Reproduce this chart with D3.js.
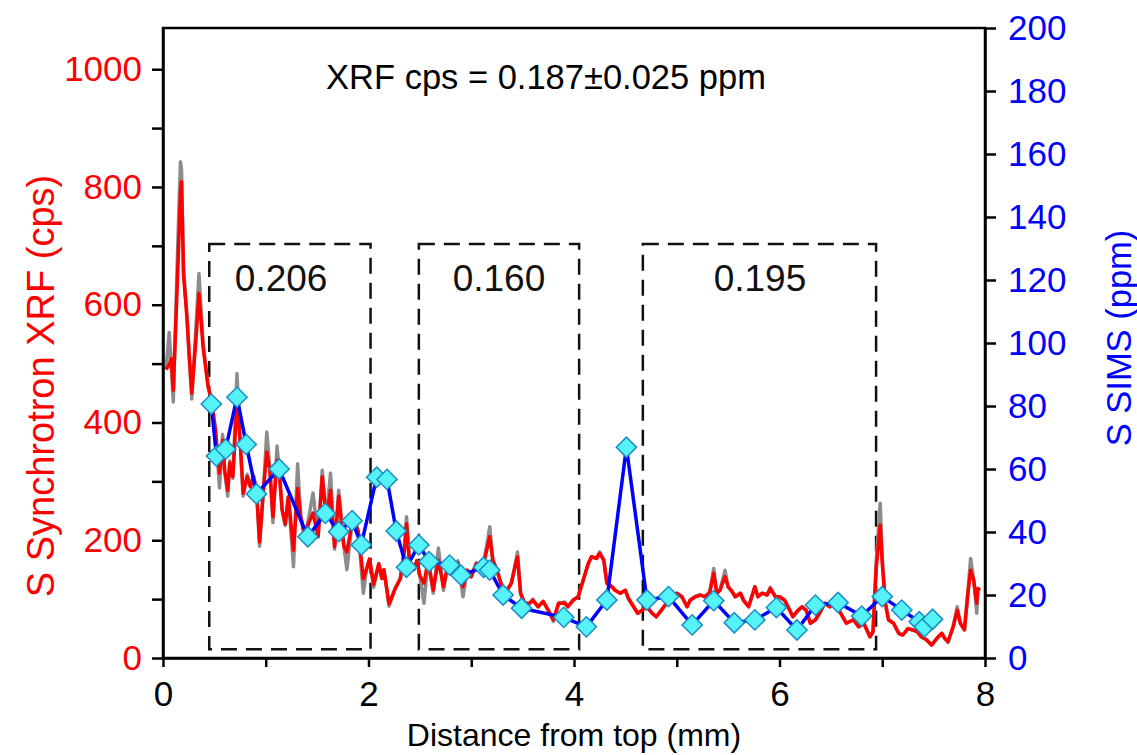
<!DOCTYPE html>
<html>
<head>
<meta charset="utf-8">
<script src="https://cdn.jsdelivr.net/npm/d3@7"></script>
<style>
  body { margin: 0; background: #fff; }
  svg { display: block; font-family: "Liberation Sans", Arial, sans-serif; }
</style>
</head>
<body>
<svg id="chart"></svg>
<script>
// S profile along the sample: synchrotron XRF scan (cps) and SIMS spots (ppm)
// xrf rows: [distance mm, smoothed cps (red), raw cps (grey)]
const xrfScan = [
  [0.03,490,490],[0.06,498,553],[0.08,508,500],[0.10,455,435],[0.14,640,680],
  [0.17,790,843],[0.18,809,830],[0.20,650,660],[0.23,585,590],[0.26,500,500],
  [0.28,450,440],[0.32,540,560],[0.35,619,653],[0.39,528,535],[0.44,460,460],
  [0.47,440,440],[0.51,387,390],[0.55,314,289],[0.58,370,380],[0.60,319,319],
  [0.63,285,275],[0.65,331,335],[0.68,308,305],[0.72,435,483],[0.75,370,372],
  [0.78,280,275],[0.82,308,312],[0.85,291,291],[0.88,308,310],[0.91,285,285],
  [0.94,197,190],[0.98,291,291],[1.01,350,384],[1.04,319,322],[1.07,240,230],
  [1.11,336,360],[1.13,319,320],[1.16,251,250],[1.19,228,225],[1.22,274,274],
  [1.27,183,155],[1.31,288,330],[1.34,240,240],[1.38,206,205],[1.42,230,240],
  [1.46,246,280],[1.51,206,206],[1.55,308,319],[1.59,234,234],[1.63,285,314],
  [1.67,189,185],[1.71,275,285],[1.76,190,190],[1.79,180,150],[1.85,240,245],
  [1.90,215,215],[1.95,135,110],[1.98,150,150],[2.01,168,168],[2.05,125,120],
  [2.10,160,160],[2.13,135,135],[2.15,150,150],[2.20,92,88],[2.26,118,118],
  [2.31,135,135],[2.35,183,185],[2.37,228,240],[2.40,160,160],[2.44,150,150],
  [2.47,165,165],[2.50,140,140],[2.54,127,93],[2.58,166,166],[2.63,115,110],
  [2.68,166,187],[2.73,121,115],[2.78,166,166],[2.83,149,149],[2.87,161,165],
  [2.92,121,104],[2.96,149,149],[3.00,138,138],[3.05,161,161],[3.10,144,144],
  [3.15,183,190],[3.18,206,223],[3.21,166,166],[3.25,149,149],[3.30,121,121],
  [3.33,110,108],[3.39,127,127],[3.44,166,170],[3.45,172,180],[3.48,110,110],
  [3.52,93,93],[3.57,93,93],[3.60,98,100],[3.65,87,87],[3.70,96,96],
  [3.75,81,81],[3.80,65,62],[3.85,93,93],[3.91,93,95],[3.94,87,87],
  [3.99,98,98],[4.04,104,104],[4.07,121,121],[4.11,144,144],[4.14,161,161],
  [4.17,172,172],[4.22,169,170],[4.25,178,180],[4.29,166,166],[4.32,127,127],
  [4.37,121,121],[4.40,115,115],[4.45,110,110],[4.50,115,115],[4.53,101,101],
  [4.58,87,87],[4.62,76,76],[4.66,81,81],[4.71,87,87],[4.76,76,76],
  [4.80,70,70],[4.85,81,81],[4.90,93,93],[4.95,98,98],[5.00,110,110],
  [5.05,104,104],[5.10,87,87],[5.13,98,98],[5.18,104,104],[5.23,107,107],
  [5.27,104,104],[5.32,110,112],[5.36,144,152],[5.39,110,110],[5.42,115,115],
  [5.47,138,149],[5.50,121,121],[5.53,115,115],[5.57,104,104],[5.62,110,110],
  [5.65,98,98],[5.70,87,87],[5.73,104,104],[5.76,121,121],[5.79,104,104],
  [5.83,110,110],[5.88,107,107],[5.91,118,120],[5.96,104,104],[6.00,104,104],
  [6.05,98,98],[6.10,81,81],[6.13,70,70],[6.18,81,81],[6.22,87,87],
  [6.26,81,81],[6.30,59,59],[6.35,65,65],[6.39,76,76],[6.44,93,93],
  [6.49,87,87],[6.54,93,93],[6.59,78,78],[6.65,59,59],[6.72,65,65],
  [6.77,53,53],[6.82,59,59],[6.88,36,36],[6.91,45,45],[6.94,149,160],
  [6.98,226,263],[7.00,161,170],[7.03,93,95],[7.06,65,65],[7.11,59,59],
  [7.16,42,42],[7.20,39,39],[7.25,50,50],[7.29,48,48],[7.34,45,45],
  [7.38,36,36],[7.43,31,31],[7.48,22,22],[7.53,33,33],[7.58,42,42],
  [7.61,33,33],[7.64,28,26],[7.69,53,53],[7.73,81,87],[7.76,59,59],
  [7.80,48,48],[7.83,104,104],[7.86,149,169],[7.89,132,132],[7.92,93,76],
  [7.93,118,118],[7.95,115,115]
];

const simsDist = [0.47,0.52,0.61,0.72,0.81,0.91,1.13,1.41,1.58,1.71,1.84,1.93,
  2.08,2.18,2.27,2.37,2.49,2.59,2.79,2.90,3.12,3.18,3.31,3.49,3.90,4.12,4.32,
  4.51,4.71,4.92,5.15,5.36,5.56,5.76,5.97,6.17,6.35,6.57,6.80,7.00,7.19,7.36,7.41,7.49];
const simsPpm = [80.6,64.1,66.3,82.8,67.8,52.1,60.0,38.5,45.9,40.1,43.6,35.9,
  57.4,56.7,40.3,28.8,35.9,30.6,29.5,26.3,28.8,27.9,20.0,15.8,12.9,9.9,18.4,
  66.9,18.4,19.5,10.5,18.2,11.2,12.1,16.0,8.9,16.8,17.6,13.3,19.5,15.2,11.5,9.9,12.3];

// dashed averaging windows: [from mm, to mm, label, label centre mm]
const windows = [
  [0.45, 2.02, '0.206', 1.15],
  [2.49, 4.05, '0.160', 3.27],
  [4.67, 6.94, '0.195', 5.81]
];
const windowTop = 703;   // cps
const windowBottom = 15; // cps

const xTicks = [0, 1, 2, 3, 4, 5, 6, 7, 8];
const xLabels = [0, 2, 4, 6, 8];
const leftTicks = [0, 100, 200, 300, 400, 500, 600, 700, 800, 900, 1000];
const leftLabels = [0, 200, 400, 600, 800, 1000];
const rightTicks = [0, 20, 40, 60, 80, 100, 120, 140, 160, 180, 200];

const calibText = 'XRF cps = 0.187\u00b10.025 ppm';

const W = 1137, H = 755;
const margin = {top: 28, right: 152, bottom: 97, left: 163};
const innerW = W - margin.left - margin.right;
const innerH = H - margin.top - margin.bottom;

const svg = d3.select('#chart').attr('width', W).attr('height', H);
const chart = svg.append('g')
    .attr('transform', `translate(${margin.left}, ${margin.top})`);

const xscale = d3.scaleLinear().domain([0, 8]).range([0, innerW]);
const yleft = d3.scaleLinear().domain([0, 1070]).range([innerH, 0]);
const yright = d3.scaleLinear().domain([0, 200]).range([innerH, 0]);

const fontSize = '35px';

// dashed windows
windows.forEach(w => {
    chart.append('rect')
        .attr('x', xscale(w[0]))
        .attr('y', yleft(windowTop))
        .attr('width', xscale(w[1]) - xscale(w[0]))
        .attr('height', yleft(windowBottom) - yleft(windowTop))
        .attr('fill', 'none')
        .attr('stroke', '#111')
        .attr('stroke-width', 2.5)
        .attr('stroke-dasharray', '16,9');
    chart.append('text')
        .attr('x', xscale(w[3]))
        .attr('y', yleft(windowTop) + 47)
        .attr('text-anchor', 'middle')
        .style('font-size', '37px')
        .attr('fill', '#111')
        .text(w[2]);
});

// XRF raw (grey) and smoothed (red)
const rawLine = d3.line().x(d => xscale(d[0])).y(d => yleft(d[2]));
const redLine = d3.line().x(d => xscale(d[0])).y(d => yleft(d[1]));

chart.append('path')
    .attr('d', rawLine(xrfScan))
    .attr('fill', 'none')
    .attr('stroke', '#8c8c8c')
    .attr('stroke-width', 3.5)
    .attr('stroke-linejoin', 'round');

chart.append('path')
    .attr('d', redLine(xrfScan))
    .attr('fill', 'none')
    .attr('stroke', '#ff0000')
    .attr('stroke-width', 3.5)
    .attr('stroke-linejoin', 'round');

// SIMS line + diamonds
const sims = simsDist.map((d, i) => ({dist: d, ppm: simsPpm[i]}));
const simsLine = d3.line().x(d => xscale(d.dist)).y(d => yright(d.ppm));

chart.append('path')
    .attr('d', simsLine(sims))
    .attr('fill', 'none')
    .attr('stroke', '#0000ff')
    .attr('stroke-width', 3.5)
    .attr('stroke-linejoin', 'round');

const diamond = d3.symbol().type(d3.symbolSquare).size(205);
chart.selectAll('.spot')
    .data(sims)
    .join('path')
    .attr('class', 'spot')
    .attr('d', diamond)
    .attr('transform', d => `translate(${xscale(d.dist)}, ${yright(d.ppm)}) rotate(45)`)
    .attr('fill', '#55f2f8')
    .attr('stroke', '#1b8cc4')
    .attr('stroke-width', 1.5);

// frame
chart.append('rect')
    .attr('x', 0).attr('y', 0)
    .attr('width', innerW).attr('height', innerH)
    .attr('fill', 'none')
    .attr('stroke', '#000')
    .attr('stroke-width', 2.5);

// axes
const xaxis = d3.axisBottom(xscale)
    .tickValues(xTicks)
    .tickSize(9)
    .tickSizeOuter(0)
    .tickPadding(14)
    .tickFormat(d => xLabels.includes(d) ? d : '');
const yaxisL = d3.axisLeft(yleft)
    .tickValues(leftTicks)
    .tickSize(11)
    .tickSizeOuter(0)
    .tickPadding(10)
    .tickFormat(d => leftLabels.includes(d) ? d : '');
const yaxisR = d3.axisRight(yright)
    .tickValues(rightTicks)
    .tickSize(11)
    .tickSizeOuter(0)
    .tickPadding(12);

function styleAxis(g, color) {
    g.select('.domain').attr('stroke', '#000').attr('stroke-width', 2.5);
    g.selectAll('.tick line').attr('stroke', '#000').attr('stroke-width', 2.5);
    g.selectAll('.tick text')
        .style('font-size', fontSize)
        .style('font-family', '"Liberation Sans", Arial, sans-serif')
        .attr('fill', color);
}

chart.append('g')
    .attr('transform', `translate(0, ${innerH})`)
    .call(xaxis)
    .call(g => styleAxis(g, '#000'));

chart.append('g')
    .call(yaxisL)
    .call(g => styleAxis(g, '#ff0000'));

chart.append('g')
    .attr('transform', `translate(${innerW}, 0)`)
    .call(yaxisR)
    .call(g => styleAxis(g, '#0000ff'));

// texts
svg.append('text')
    .attr('x', margin.left + innerW / 2)
    .attr('y', 746)
    .attr('text-anchor', 'middle')
    .style('font-size', '32px')
    .attr('fill', '#000')
    .text('Distance from top (mm)');

svg.append('text')
    .attr('transform', `translate(54, 386) rotate(-90)`)
    .attr('text-anchor', 'middle')
    .style('font-size', '38px')
    .attr('fill', '#ff0000')
    .text('S Synchrotron XRF (cps)');

svg.append('text')
    .attr('transform', `translate(1131, 338) rotate(-90)`)
    .attr('text-anchor', 'middle')
    .style('font-size', '34.5px')
    .attr('fill', '#0000ff')
    .text('S SIMS (ppm)');

svg.append('text')
    .attr('x', 546)
    .attr('y', 89)
    .attr('text-anchor', 'middle')
    .style('font-size', '34.5px')
    .attr('fill', '#000')
    .text(calibText);
</script>
</body>
</html>
